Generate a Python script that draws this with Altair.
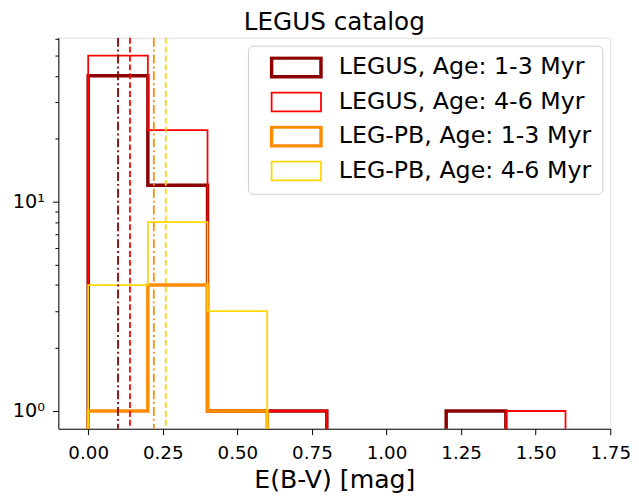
import altair as alt
import pandas as pd

# ---- data ----
bin_edges = [0.0, 0.2, 0.4, 0.6, 0.8, 1.0, 1.2, 1.4, 1.6]
series_names = [
    "LEGUS, Age: 1-3 Myr",
    "LEGUS, Age: 4-6 Myr",
    "LEG-PB, Age: 1-3 Myr",
    "LEG-PB, Age: 4-6 Myr",
]
legus_young = [40, 12, 1, 1, 0, 0, 1, 0]
legus_old = [50, 22, 1, 1, 0, 0, 0, 1]
legpb_young = [1, 4, 1, 0, 0, 0, 0, 0]
legpb_old = [4, 8, 3, 0, 0, 0, 0, 0]
median_ebv = [0.10, 0.14, 0.22, 0.26]

title_text = ["LEGUS catalog"]
x_title = "E(B-V) [mag]"
x_ticks = [0.0, 0.25, 0.5, 0.75, 1.0, 1.25, 1.5, 1.75]
y_ticks = [1, 2, 3, 4, 5, 6, 7, 8, 9, 10, 20, 30, 40, 50, 60]

colors = ["#8b0000", "#ff0000", "#ff8c00", "#ffd700"]
widths = [3.5, 1.8, 3.5, 1.8]
rule_dash = [[9, 3, 2, 3], [6, 3], [9, 3, 2, 3], [6, 3]]

FLOOR = 0.5  # zero counts fall below the log axis and are clipped
FONT = "DejaVu Sans"
W, H = 559, 396


def step_rows(name, counts, lw):
    rows = [{"series": name, "x": bin_edges[0], "y": FLOOR}]
    for i, c in enumerate(counts):
        v = c if c > 0 else FLOOR
        rows.append({"series": name, "x": bin_edges[i], "y": v})
        rows.append({"series": name, "x": bin_edges[i + 1], "y": v})
    rows.append({"series": name, "x": bin_edges[-1], "y": FLOOR})
    for k, r in enumerate(rows):
        r["idx"] = k
        r["lw"] = lw
    return rows


all_counts = [legus_young, legus_old, legpb_young, legpb_old]

xscale = alt.Scale(domain=[-0.1, 1.75], nice=False, zero=False)
yscale = alt.Scale(type="log", domain=[0.8226, 60.8], nice=False)
cscale = alt.Scale(domain=series_names, range=colors)

thick_names = "['" + series_names[0] + "','" + series_names[2] + "']"

legend = alt.Legend(
    title=None,
    orient="none",
    legendX=192,
    legendY=8,
    symbolType="M-1,-0.38H1V0.38H-1Z",
    symbolSize=2500,
    symbolOffset=26,
    symbolFillColor="transparent",
    symbolStrokeWidth=alt.ExprRef(
        "indexof(" + thick_names + ", datum.value) >= 0 ? 3.5 : 1.8"
    ),
    labelFont=FONT,
    labelFontSize=24,
    labelColor="black",
    labelOffset=31,
    labelLimit=600,
    clipHeight=22,
    padding=11,
    rowPadding=11,
    strokeColor="#cccccc",
    cornerRadius=5,
    fillColor="white",
)

xaxis = alt.Axis(
    values=x_ticks,
    format=".2f",
    title=x_title,
    titleFont=FONT,
    titleFontSize=25.5,
    titleFontWeight="normal",
    titleColor="black",
    titlePadding=6,
    labelFont=FONT,
    labelFontSize=18.5,
    labelColor="black",
    labelPadding=9,
    tickSize=6,
    tickColor="black",
    domainColor="black",
    grid=False,
    labelFlush=False,
)

yaxis = alt.Axis(
    values=y_ticks,
    title=None,
    labelExpr="datum.value == 1 ? '10⁰' : (datum.value == 10 ? '10¹' : '')",
    labelFont=FONT,
    labelFontSize=19.5,
    labelColor="black",
    labelPadding=8,
    tickSize={"condition": {"test": "datum.value == 1 || datum.value == 10", "value": 6}, "value": 3.5},
    tickColor="black",
    domainColor="black",
    grid=False,
)

layers = []
for i, name in enumerate(series_names):
    df = pd.DataFrame(step_rows(name, all_counts[i], widths[i]))
    layers.append(
        alt.Chart(df)
        .mark_line(clip=True, strokeJoin="miter", strokeCap="butt")
        .encode(
            x=alt.X("x:Q", scale=xscale, axis=xaxis),
            y=alt.Y("y:Q", scale=yscale, axis=yaxis),
            color=alt.Color("series:N", scale=cscale, legend=legend),
            strokeWidth=alt.StrokeWidth("lw:Q", scale=None, legend=None),
            order="idx:Q",
        )
    )

for i, name in enumerate(series_names):
    rdf = pd.DataFrame({"x": [median_ebv[i]], "series": [name]})
    layers.append(
        alt.Chart(rdf)
        .mark_rule(strokeDash=rule_dash[i], strokeWidth=1.8, color=colors[i])
        .encode(x=alt.X("x:Q", scale=xscale))
    )

# chart title, centred over the plot area (kept inside the canvas)
layers.append(
    alt.Chart(pd.DataFrame({"t": title_text}))
    .mark_text(font=FONT, fontSize=25, color="black", align="center", baseline="alphabetic")
    .encode(text="t:N", x=alt.value(W / 2), y=alt.value(-8))
)

chart = (
    alt.layer(*layers)
    .properties(
        width=W,
        height=H,
        autosize=alt.AutoSizeParams(type="none"),
        padding={"left": 51, "top": 27, "right": 21, "bottom": 68},
    )
    .configure_view(stroke="black", strokeWidth=1.2)
    .configure(background="white")
)

chart.save("out.html", embed_options={"renderer": "svg", "actions": False})
